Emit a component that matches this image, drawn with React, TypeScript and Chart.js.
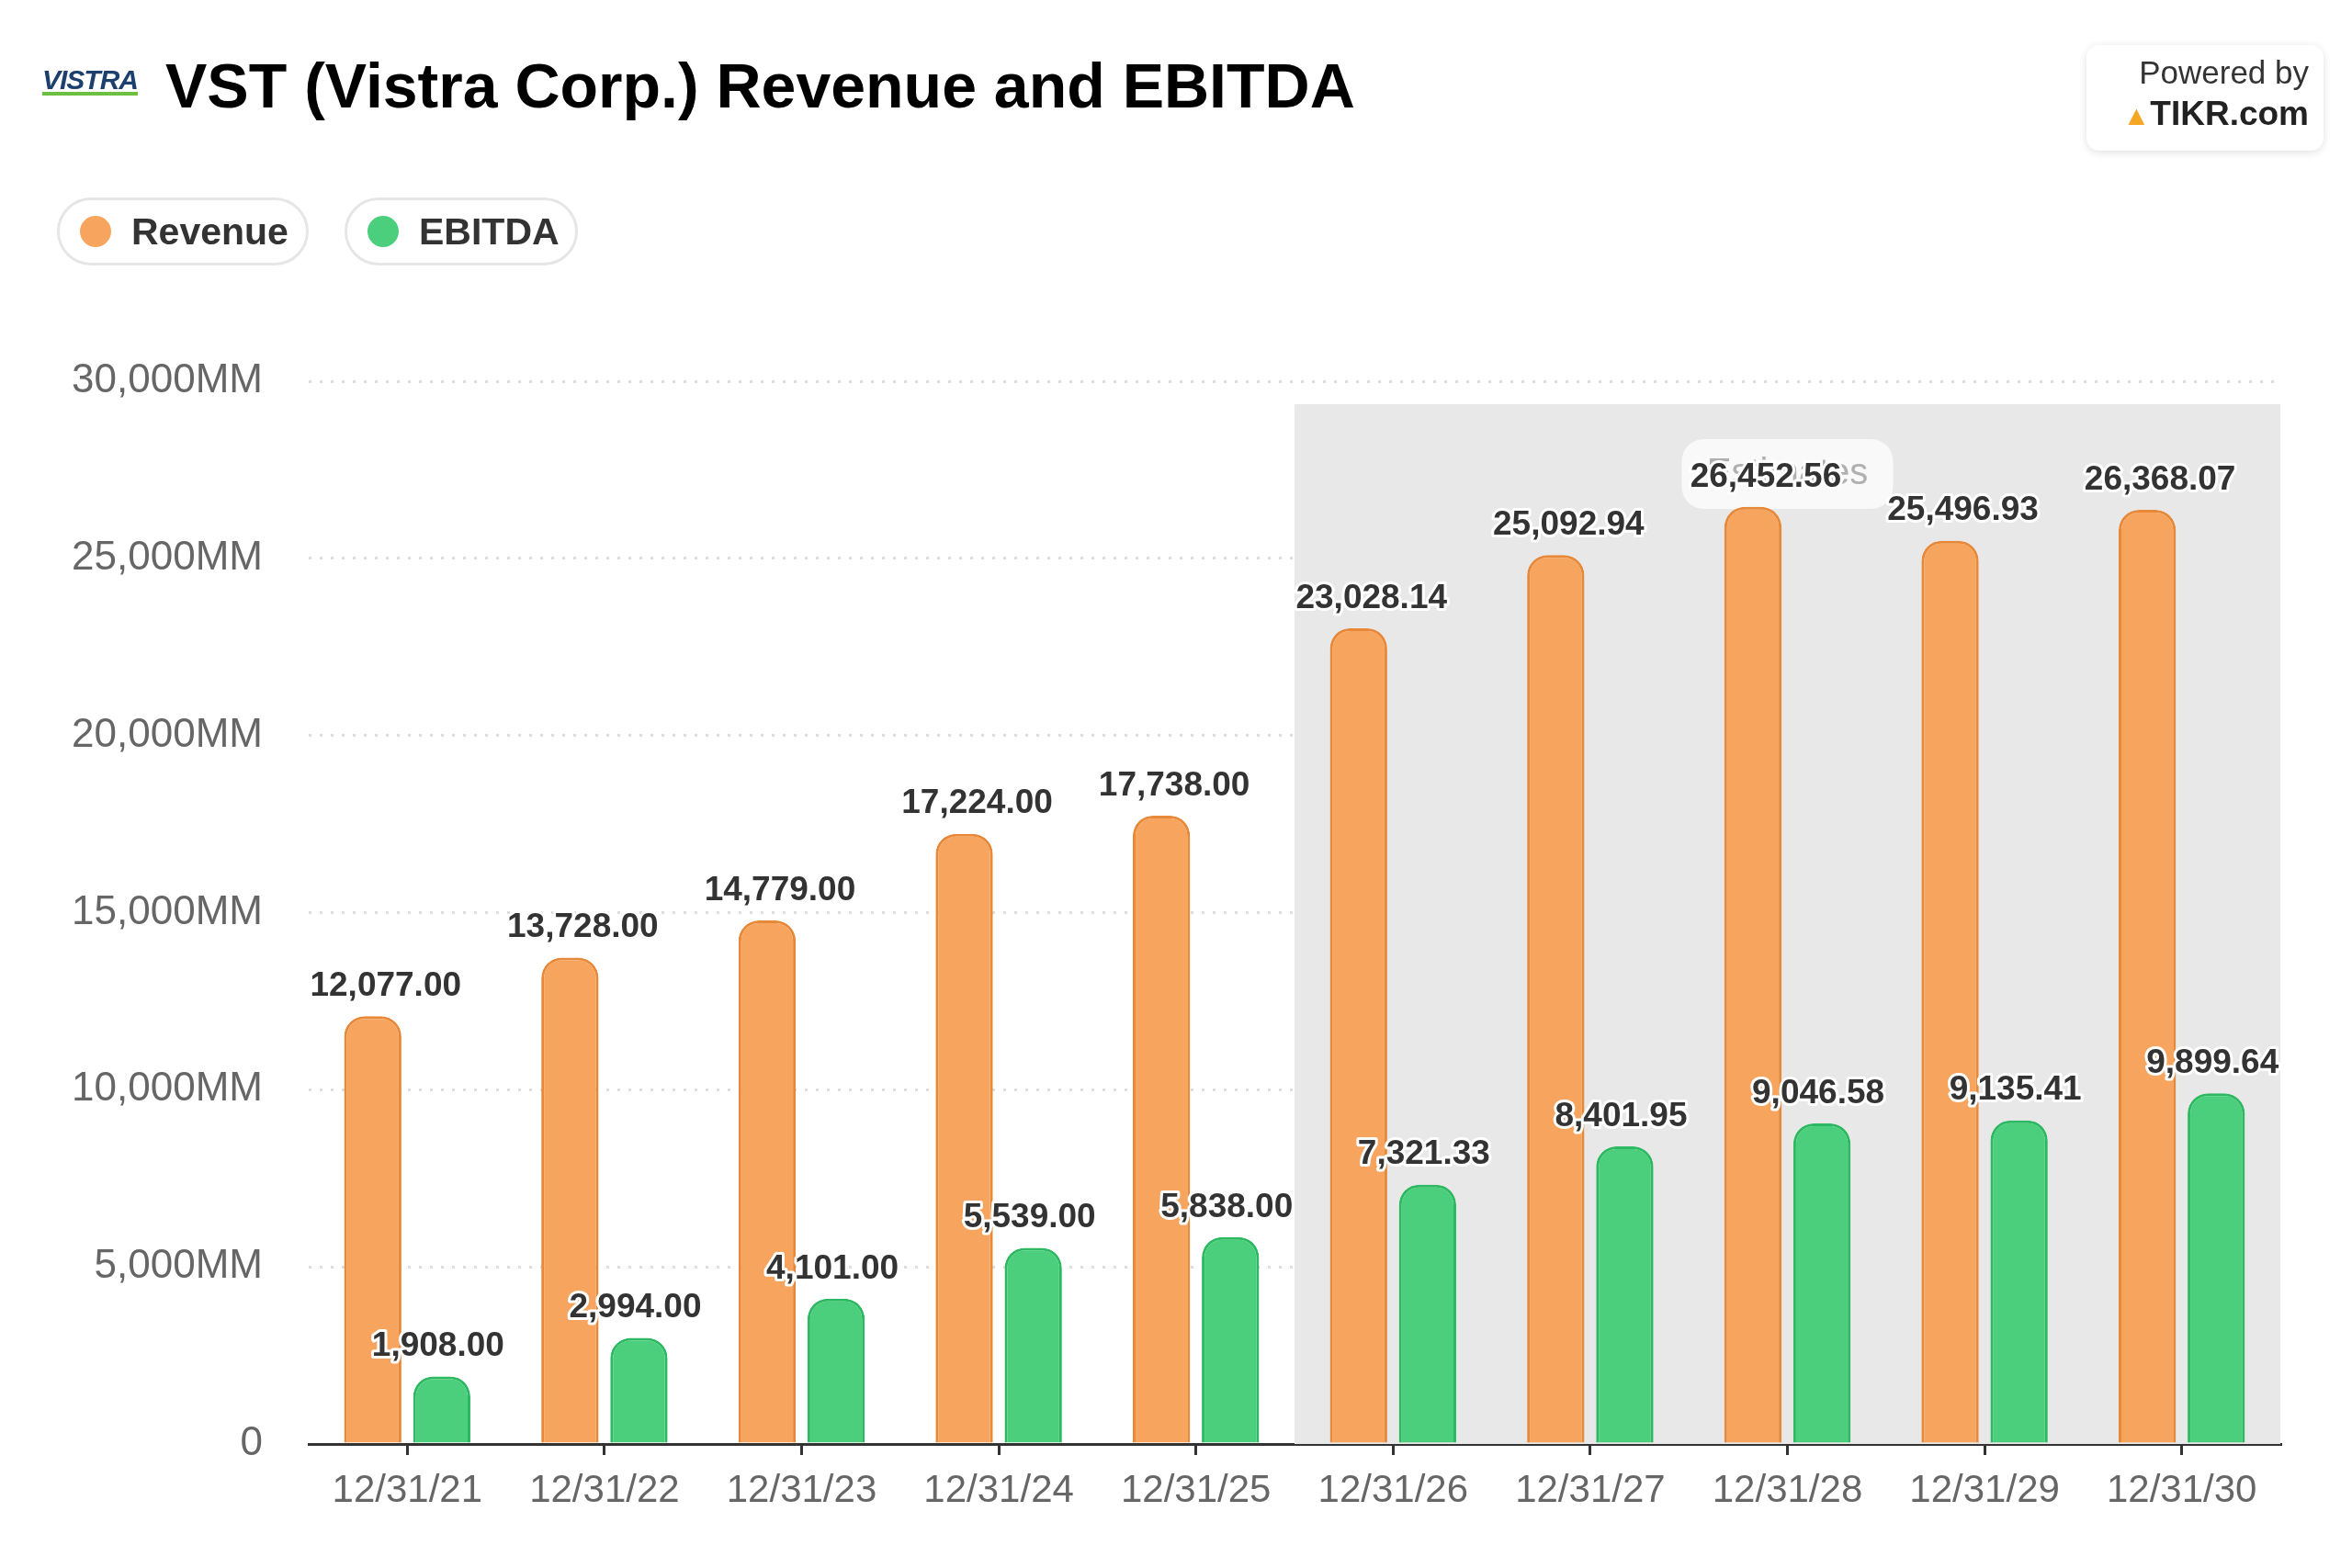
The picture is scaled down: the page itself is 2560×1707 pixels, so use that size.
import React, { useEffect, useRef } from "react";
import { Chart, registerables } from "chart.js";
Chart.register(...registerables);

const categories = ["12/31/21","12/31/22","12/31/23","12/31/24","12/31/25","12/31/26","12/31/27","12/31/28","12/31/29","12/31/30"];
const revenue = [12077.0,13728.0,14779.0,17224.0,17738.0,23028.14,25092.94,26452.56,25496.93,26368.07];
const ebitda = [1908.0,2994.0,4101.0,5539.0,5838.0,7321.33,8401.95,9046.58,9135.41,9899.64];
const firstEstimateIndex = 5;
const FONT = "'Liberation Sans', Arial, sans-serif";

const fmt = (v: number) => v.toLocaleString("en-US", { minimumFractionDigits: 2, maximumFractionDigits: 2 });

const shadePlugin = {
  id: "shade",
  beforeDatasetsDraw(chart: any) {
    const { ctx, chartArea, scales } = chart;
    const x = scales.x;
    const left = (x.getPixelForValue(firstEstimateIndex - 1) + x.getPixelForValue(firstEstimateIndex)) / 2;
    const top = scales.y.getPixelForValue(29350);
    ctx.save();
    ctx.fillStyle = "#e8e8e8";
    ctx.fillRect(left, top, chartArea.right - left, chartArea.bottom - top);
    const cx = x.getPixelForValue(7);
    const w = 230, h = 76, y0 = top + 38;
    ctx.fillStyle = "rgba(255,255,255,0.75)";
    ctx.beginPath();
    ctx.roundRect(cx - w / 2, y0, w, h, 24);
    ctx.fill();
    ctx.fillStyle = "#b0b0b0";
    ctx.font = `40px ${FONT}`;
    ctx.textAlign = "center";
    ctx.textBaseline = "middle";
    ctx.fillText("Estimates", cx, y0 + h / 2);
    ctx.restore();
  },
  afterDatasetsDraw(chart: any) {
    const { ctx } = chart;
    ctx.save();
    ctx.font = `bold 37px ${FONT}`;
    ctx.textAlign = "center";
    ctx.textBaseline = "bottom";
    ctx.lineJoin = "round";
    chart.data.datasets.forEach((ds: any, di: number) => {
      chart.getDatasetMeta(di).data.forEach((bar: any, i: number) => {
        const t = fmt(ds.data[i]);
        const xx = bar.x + (di === 0 ? 14 : -4);
        const yy = bar.y - 14;
        ctx.strokeStyle = "#fff";
        ctx.lineWidth = 6;
        ctx.strokeText(t, xx, yy);
        ctx.fillStyle = "#333";
        ctx.fillText(t, xx, yy);
      });
    });
    ctx.restore();
  },
};

export default function App() {
  const ref = useRef<HTMLCanvasElement>(null);
  useEffect(() => {
    document.body.style.margin = "0";
    const chart = new Chart(ref.current!, {
      type: "bar",
      data: {
        labels: categories,
        datasets: [
          { label: "Revenue", data: revenue, backgroundColor: "#F7A55E", borderColor: "#E8893A", borderWidth: 3, borderRadius: { topLeft: 22, topRight: 22 }, borderSkipped: "bottom", categoryPercentage: 0.7, barPercentage: 0.83 },
          { label: "EBITDA", data: ebitda, backgroundColor: "#4BCF7D", borderColor: "#2DB862", borderWidth: 3, borderRadius: { topLeft: 22, topRight: 22 }, borderSkipped: "bottom", categoryPercentage: 0.7, barPercentage: 0.83 },
        ],
      },
      options: {
        animation: false,
        responsive: false,
        devicePixelRatio: 1,
        layout: { padding: { top: 415, right: 78, left: 0, bottom: 0 } },
        plugins: { legend: { display: false }, tooltip: { enabled: false } },
        scales: {
          x: {
            grid: { display: true, drawOnChartArea: false, drawTicks: true, offset: false, tickLength: 12, color: "#333", lineWidth: 3 },
            border: { color: "#333", width: 3 },
            ticks: { color: "#666", font: { size: 42, family: FONT }, padding: 14 },
            afterFit: (s: any) => { s.height = 135; },
          },
          y: {
            min: 0, max: 30000,
            ticks: { stepSize: 5000, color: "#666", font: { size: 44, family: FONT }, padding: 50,
              callback: (v: any) => (v === 0 ? "0" : Number(v).toLocaleString("en-US") + "MM") },
            grid: { color: "#dddddd", lineWidth: 3, drawTicks: false },
            border: { display: false, dash: [3, 9] },
            afterFit: (s: any) => { s.width = 336; },
          },
        },
      },
      plugins: [shadePlugin],
    });
    return () => chart.destroy();
  }, []);

  return (
    <div style={{ position: "relative", width: 2560, height: 1707, fontFamily: FONT, background: "#fff" }}>
      <canvas ref={ref} width={2560} height={1707} style={{ position: "absolute", left: 0, top: 0 }} />
      <div style={{ position: "absolute", left: 46, top: 74, fontSize: 30, fontWeight: "bold", fontStyle: "italic", color: "#1c3f6e", letterSpacing: -1, borderBottom: "4px solid #6cbf3f", lineHeight: "26px" }}>VISTRA</div>
      <div style={{ position: "absolute", left: 180, top: 54, fontSize: 68, fontWeight: "bold", color: "#000", whiteSpace: "nowrap" }}>VST (Vistra Corp.) Revenue and EBITDA</div>
      {[{ n: "Revenue", c: "#F7A55E", l: 62, w: 274 }, { n: "EBITDA", c: "#4BCF7D", l: 375, w: 254 }].map((p) => (
        <div key={p.n} style={{ position: "absolute", left: p.l, top: 215, width: p.w, height: 74, boxSizing: "border-box", border: "3px solid #e6e6e6", borderRadius: 37, display: "flex", alignItems: "center", paddingLeft: 22 }}>
          <span style={{ width: 34, height: 34, borderRadius: 17, background: p.c, display: "inline-block", marginRight: 22 }} />
          <span style={{ fontSize: 41, fontWeight: "bold", color: "#333" }}>{p.n}</span>
        </div>
      ))}
      <div style={{ position: "absolute", left: 2271, top: 49, width: 258, height: 115, boxSizing: "border-box", borderRadius: 14, boxShadow: "0 2px 10px rgba(0,0,0,0.12)", textAlign: "right", padding: "10px 16px", whiteSpace: "nowrap" }}>
        <div style={{ fontSize: 35, color: "#333" }}>Powered by</div>
        <div style={{ fontSize: 37, fontWeight: "bold", color: "#222", marginTop: 4 }}><span style={{ color: "#f5a623", fontSize: 30 }}>▲</span>TIKR.com</div>
      </div>
    </div>
  );
}
